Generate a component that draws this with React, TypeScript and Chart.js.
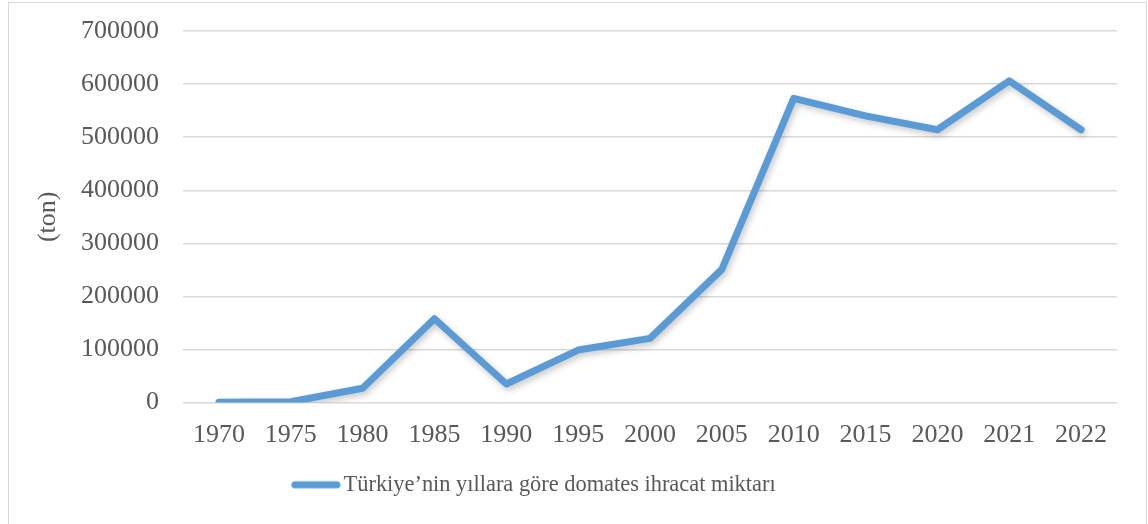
import React, { useEffect, useRef } from "react";
import { Chart, registerables } from "chart.js";

Chart.register(...registerables);

const years = ["1970", "1975", "1980", "1985", "1990", "1995", "2000", "2005", "2010", "2015", "2020", "2021", "2022"];
const exportTons = [500, 1500, 27000, 158000, 35000, 99000, 121000, 251000, 573000, 540000, 514000, 606000, 514000];
const seriesLabel = "Türkiye’nin yıllara göre domates ihracat miktarı";
const yTitle = "(ton)";

const FONT = "'Liberation Serif', 'Times New Roman', serif";
const TEXT = "#595959";
const LINE = "#5B9BD5";

const shadowPlugin = {
  id: "lineShadow",
  beforeDatasetDraw(chart: any) {
    const ctx = chart.ctx;
    ctx.save();
    ctx.shadowColor = "rgba(0,0,0,0.22)";
    ctx.shadowBlur = 6;
    ctx.shadowOffsetX = 2;
    ctx.shadowOffsetY = 3;
  },
  afterDatasetDraw(chart: any) {
    chart.ctx.restore();
  },
};

const legendShift = {
  id: "legendShift",
  afterLayout(chart: any) {
    const lg = chart.legend;
    if (lg) {
      lg.left -= 25;
      lg.right -= 25;
    }
  },
};

function makeLegendLine(): HTMLCanvasElement {
  const c = document.createElement("canvas");
  c.width = 60;
  c.height = 10;
  const g = c.getContext("2d");
  if (g) {
    g.strokeStyle = LINE;
    g.lineWidth = 7;
    g.lineCap = "round";
    g.beginPath();
    g.moveTo(13, 5);
    g.lineTo(55, 5);
    g.stroke();
  }
  return c;
}

export default function App() {
  const ref = useRef<HTMLCanvasElement | null>(null);
  useEffect(() => {
    if (!ref.current) return;
    const legendLine = makeLegendLine();
    const chart = new Chart(ref.current, {
      type: "line",
      data: {
        labels: years,
        datasets: [
          {
            label: seriesLabel,
            data: exportTons,
            borderColor: LINE,
            backgroundColor: LINE,
            borderWidth: 7,
            borderCapStyle: "round",
            borderJoinStyle: "round",
            pointRadius: 0,
            pointHoverRadius: 0,
            tension: 0,
            fill: false,
          },
        ],
      },
      plugins: [shadowPlugin, legendShift],
      options: {
        responsive: false,
        animation: false,
        layout: { padding: { top: 31, right: 31, bottom: 18, left: 0 } },
        plugins: {
          tooltip: { enabled: false },
          legend: {
            position: "bottom",
            labels: {
              usePointStyle: true,
              pointStyle: legendLine,
              pointStyleWidth: 41,
              boxWidth: 41,
              padding: 10,
              color: TEXT,
              font: { family: FONT, size: 22.4 },
            },
          },
        },
        scales: {
          x: {
            offset: true,
            grid: { display: false, drawTicks: false },
            border: { display: false },
            ticks: { color: TEXT, font: { family: FONT, size: 26 }, padding: 17, maxRotation: 0, autoSkip: false },
            afterFit(scale: any) {
              scale.height = 61;
              scale.paddingLeft = 0;
              scale.paddingRight = 0;
            },
          },
          y: {
            min: 0,
            max: 700000,
            grid: { color: "#d9d9d9", lineWidth: 1.5, drawTicks: false },
            border: { display: false },
            ticks: {
              stepSize: 100000,
              color: TEXT,
              font: { family: FONT, size: 26 },
              padding: 24,
              callback: (v: any) => String(v),
            },
            title: {
              display: true,
              text: yTitle,
              color: TEXT,
              font: { family: FONT, size: 26 },
              padding: { top: 33, bottom: 0 },
            },
            afterFit(scale: any) {
              scale.width = 183;
              scale.paddingTop = 0;
              scale.paddingBottom = 0;
            },
          },
        },
      },
    } as any);
    return () => chart.destroy();
  }, []);

  return (
    <div style={{ position: "absolute", left: 0, top: 0, width: 1148, height: 524, background: "#fff", overflow: "hidden" }}>
      <div
        style={{
          position: "absolute",
          left: 8,
          top: 2,
          width: 1139,
          height: 540,
          border: "1.5px solid #d9d9d9",
          boxSizing: "border-box",
        }}
      />
      <canvas ref={ref} width={1148} height={524} style={{ position: "absolute", left: 0, top: 0 }} />
    </div>
  );
}
